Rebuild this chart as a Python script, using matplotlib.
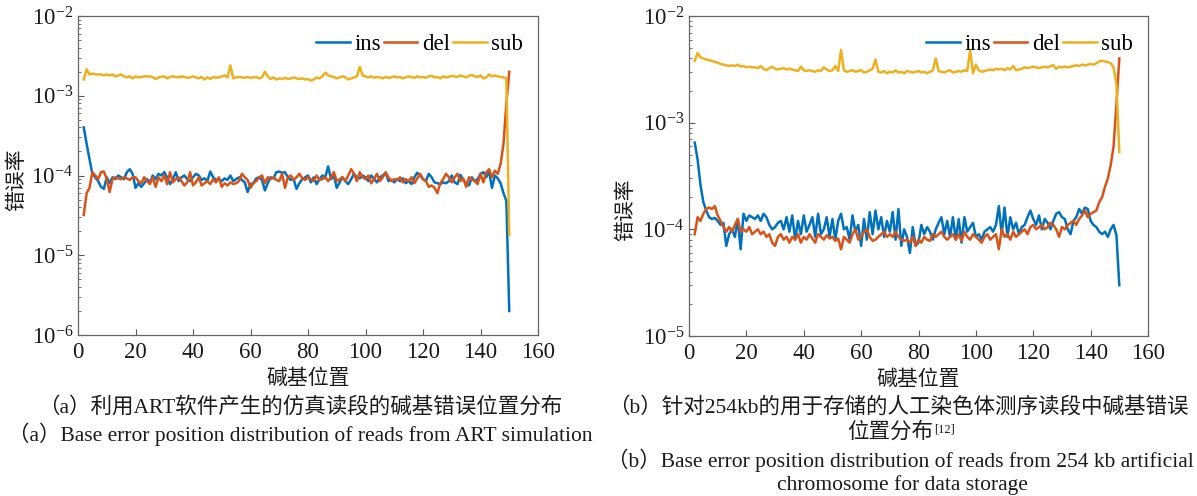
import numpy as np
import matplotlib
matplotlib.use("Agg")
import matplotlib.pyplot as plt
from matplotlib.ticker import LogLocator, NullFormatter

plt.rcParams['font.family'] = ['Liberation Serif', 'Noto Sans CJK SC', 'DejaVu Sans']
plt.rcParams['mathtext.fontset'] = 'stix'

# ---------------- data ----------------
positions = list(range(2, 151))  # base position 2..150

# Panel (a): ART simulation
a_sub_e3 = [1.6, 2.15, 1.85, 1.9, 1.85, 1.85, 1.85, 1.8, 1.85,
            1.8, 1.85, 1.75, 1.8, 1.85, 1.75, 1.7, 1.75, 1.65, 1.75,
            1.7, 1.72, 1.75, 1.75, 1.75, 1.7, 1.62, 1.7, 1.72, 1.75,
            1.65, 1.72, 1.75, 1.72, 1.7, 1.75, 1.72, 1.68, 1.7, 1.75,
            1.7, 1.65, 1.72, 1.6, 1.7, 1.62, 1.72, 1.68, 1.7, 1.75,
            1.8, 1.7, 2.4, 1.65, 1.7, 1.72, 1.7, 1.68, 1.72, 1.68,
            1.7, 1.72, 1.65, 1.7, 2.0, 1.75, 1.62, 1.7, 1.6, 1.65,
            1.62, 1.68, 1.62, 1.65, 1.7, 1.65, 1.62, 1.65, 1.6, 1.62,
            1.55, 1.6, 1.7, 1.65, 1.75, 1.95, 1.8, 1.75, 1.72, 1.65,
            1.7, 1.75, 1.7, 1.6, 1.65, 1.7, 1.75, 2.3, 1.8, 1.75,
            1.7, 1.75, 1.68, 1.72, 1.7, 1.65, 1.72, 1.68, 1.7, 1.75,
            1.7, 1.72, 1.65, 1.7, 1.75, 1.72, 1.68, 1.75, 1.7, 1.72,
            1.68, 1.75, 1.78, 1.7, 1.72, 1.65, 1.75, 1.7, 1.72, 1.78,
            1.75, 1.72, 1.8, 1.75, 1.7, 1.78, 1.82, 1.75, 1.72, 1.8,
            1.65, 1.7, 1.85, 1.75, 1.8, 1.75, 1.72, 1.7, 1.65, 0.018]

a_ins_e4 = [4.0, 2.5, 1.6, 1.05, 0.95, 0.85, 0.72, 0.68, 0.95,
            0.8, 0.95, 0.9, 1.0, 0.95, 0.9, 1.1, 1.2, 1.05, 0.7,
            0.8, 0.72, 0.8, 0.9, 0.82, 1.0, 0.9, 1.05, 1.0, 1.1,
            0.95, 0.78, 0.9, 1.1, 0.85, 0.95, 1.0, 0.9, 0.85, 0.95,
            1.05, 1.0, 0.88, 0.92, 0.85, 1.12, 0.95, 0.88, 0.9, 0.85,
            0.92, 0.88, 1.0, 0.85, 0.9, 0.95, 0.88, 0.82, 0.62, 0.78,
            0.8, 0.92, 0.95, 0.88, 0.65, 0.8, 0.95, 0.92, 1.1, 1.12,
            1.08, 1.1, 0.95, 0.88, 0.9, 0.68, 0.8, 0.9, 0.95, 1.0,
            0.82, 0.95, 0.78, 0.9, 1.0, 0.95, 1.3, 0.9, 1.0, 0.7,
            0.82, 0.95, 0.85, 0.78, 0.9, 1.05, 0.95, 0.92, 1.0, 0.95,
            0.85, 1.0, 0.9, 0.82, 0.95, 1.0, 1.08, 0.85, 0.88, 0.82,
            0.9, 0.85, 0.92, 0.8, 0.85, 0.78, 0.95, 1.08, 1.0, 0.9,
            0.85, 1.05, 0.95, 0.82, 0.8, 0.78, 0.82, 0.8, 0.85, 1.0,
            0.82, 0.78, 1.02, 0.88, 0.8, 0.75, 0.95, 0.85, 0.9, 1.05,
            1.1, 0.95, 1.12, 0.7, 1.0, 0.92, 0.8, 0.6, 0.48, 0.02]

a_del_e4 = [0.32, 0.6, 0.7, 1.1, 1.0, 0.9, 1.1, 1.12, 0.9,
            0.62, 0.9, 0.95, 0.92, 0.9, 0.95, 0.92, 0.88, 0.95, 0.95,
            0.85, 0.8, 0.95, 0.85, 0.78, 0.95, 0.72, 0.95, 0.85, 1.0,
            0.78, 1.1, 0.82, 0.9, 0.95, 0.85, 0.75, 0.82, 1.1, 0.75,
            0.82, 0.95, 0.75, 0.8, 0.85, 0.78, 0.9, 0.82, 0.95, 0.72,
            0.8, 0.75, 0.82, 0.78, 0.8, 0.85, 1.05, 0.95, 0.88, 0.7,
            0.8, 0.85, 0.95, 1.0, 0.8, 0.95, 0.9, 0.95, 0.88, 0.85,
            1.05, 0.7, 0.95, 1.0, 0.88, 0.95, 1.05, 0.92, 0.88, 0.95,
            0.9, 0.85, 1.0, 0.88, 0.9, 0.95, 0.85, 0.95, 1.1, 0.85,
            0.9, 0.95, 0.85, 1.0, 1.2, 1.05, 0.85, 1.1, 0.95, 0.9,
            1.0, 0.8, 0.9, 1.05, 0.85, 0.95, 1.1, 0.95, 0.85, 0.9,
            0.88, 0.95, 0.82, 0.9, 0.85, 0.95, 0.8, 0.92, 1.05, 0.9,
            0.85, 0.72, 0.75, 0.7, 0.6, 0.8, 0.9, 1.05, 0.95, 0.82,
            0.95, 1.05, 0.85, 0.92, 0.72, 0.95, 0.9, 0.85, 0.78, 1.05,
            0.82, 1.1, 1.2, 0.95, 1.15, 1.05, 1.4, 2.5, 8.0, 20.0]

# Panel (b): 254 kb artificial chromosome
b_sub_e3 = [3.8, 4.5, 4.1, 4.0, 3.9, 3.85, 3.8, 3.7, 3.65,
            3.55, 3.5, 3.45, 3.4, 3.45, 3.4, 3.5, 3.35, 3.4, 3.3,
            3.35, 3.3, 3.3, 3.25, 3.4, 3.2, 3.1, 3.25, 3.35, 3.2,
            3.15, 3.2, 3.25, 3.15, 3.2, 3.15, 3.1, 3.05, 3.35, 3.1,
            3.05, 3.1, 3.05, 3.0, 3.1, 3.05, 3.3, 3.15, 3.05, 3.1,
            3.4, 3.05, 4.8, 3.1, 3.0, 3.05, 3.1, 3.0, 3.05, 3.1,
            2.95, 3.0, 3.1, 3.2, 3.9, 3.0, 2.95, 3.05, 2.9, 3.0,
            2.95, 3.1, 2.95, 3.0, 2.9, 3.05, 3.0, 2.95, 3.0, 3.05,
            2.95, 3.0, 2.9, 3.0, 3.1, 4.0, 3.05, 3.0, 2.95, 3.05,
            3.1, 2.95, 3.0, 3.05, 3.0, 3.1, 3.05, 4.8, 2.9, 3.5,
            3.1, 3.0, 3.05, 3.1, 3.15, 3.1, 3.2, 3.15, 3.2, 3.1,
            3.25, 3.15, 3.4, 3.1, 3.15, 3.2, 3.3, 3.25, 3.3, 3.35,
            3.3, 3.25, 3.3, 3.35, 3.3, 3.4, 3.45, 3.2, 3.35, 3.3,
            3.35, 3.3, 3.35, 3.4, 3.45, 3.4, 3.5, 3.45, 3.5, 3.55,
            3.5, 3.6, 3.75, 3.8, 3.75, 3.7, 3.6, 3.3, 2.3, 0.53]

b_ins_e4 = [6.5, 4.5, 2.6, 1.8, 1.5, 1.3, 1.25, 1.28, 1.2,
            1.1, 1.15, 0.7, 0.9, 1.0, 0.85, 1.25, 0.65, 1.4, 1.2,
            1.35, 1.3, 1.25, 1.35, 1.2, 1.4, 1.3, 1.1, 1.0, 1.05,
            1.15, 1.2, 1.0, 1.3, 0.95, 1.35, 0.8, 1.2, 0.9, 1.35,
            0.95, 1.1, 1.3, 0.85, 1.4, 0.9, 1.0, 1.3, 0.85, 1.25,
            0.8, 1.2, 1.4, 1.0, 1.05, 0.8, 1.35, 0.95, 1.1, 0.7,
            1.25, 0.8, 1.45, 0.9, 1.5, 1.0, 1.3, 0.85, 1.2, 0.95,
            1.45, 0.8, 1.55, 0.7, 1.0, 0.85, 0.6, 1.05, 0.7, 0.75,
            1.1, 0.9, 1.05, 0.95, 0.8, 1.0, 1.15, 1.3, 0.9, 1.2,
            0.85, 1.3, 0.8, 1.25, 0.75, 1.3, 0.95, 1.05, 1.15, 0.85,
            0.9, 0.8, 0.95, 1.0, 1.05, 0.95, 1.1, 1.65, 0.9, 1.6,
            0.85, 1.3, 1.0, 1.15, 0.9, 1.05, 1.1, 1.3, 1.5, 1.25,
            1.1, 1.35, 1.0, 1.25, 1.15, 1.0, 1.2, 1.4, 1.45, 1.3,
            1.25, 1.0, 0.9, 1.2, 1.3, 1.55, 1.4, 1.6, 1.55, 1.2,
            1.1, 1.05, 0.95, 0.9, 0.95, 0.85, 1.0, 1.1, 0.88, 0.3]

b_del_e4 = [0.9, 1.3, 1.2, 1.4, 1.55, 1.6, 1.55, 1.65, 1.35,
            1.2, 1.05, 0.95, 1.05, 0.95, 1.1, 1.25, 0.95, 1.0, 0.95,
            1.05, 0.9, 0.95, 1.0, 0.9, 0.95, 0.85, 0.9, 0.75, 0.7,
            0.85, 0.9, 0.8, 0.85, 0.75, 0.85, 0.8, 0.9, 0.75, 0.85,
            0.8, 0.9, 0.82, 0.75, 0.9, 0.85, 0.8, 0.88, 0.82, 0.85,
            0.78, 0.82, 0.65, 0.85, 0.8, 0.75, 0.9, 1.0, 0.8, 0.85,
            0.95, 1.0, 0.85, 0.78, 0.8, 0.85, 0.9, 0.95, 0.85, 0.9,
            0.85, 0.95, 0.85, 0.8, 0.78, 0.8, 0.75, 0.85, 0.7, 0.8,
            0.75, 0.85, 0.8, 0.78, 0.9, 0.85, 0.9, 0.95, 0.85, 0.8,
            0.85, 0.9, 0.8, 0.9, 0.78, 0.95, 0.85, 0.8, 0.9, 0.85,
            0.8, 0.75, 0.85, 0.9, 0.8, 0.85, 0.9, 0.65, 1.0, 0.85,
            0.9, 0.8, 0.95, 0.85, 0.9, 0.95, 1.0, 0.9, 1.05, 1.1,
            1.0, 1.05, 1.1, 1.0, 1.05, 1.15, 1.1, 1.0, 0.85, 1.05,
            1.0, 1.1, 1.15, 1.2, 1.1, 1.25, 1.35, 1.5, 1.3, 1.4,
            1.45, 1.5, 1.8, 2.0, 2.5, 3.0, 4.0, 6.0, 15.0, 40.0]

series_names = ['ins', 'del', 'sub']
colors = ['#0072BD', '#D95319', '#EDB120']
x_ticks = [0, 20, 40, 60, 80, 100, 120, 140, 160]

# ---------------- figure ----------------
W, H = 1197, 496
fig = plt.figure(figsize=(W / 100, H / 100), dpi=100)

def px_axes(x0, x1, y0, y1):
    return fig.add_axes([x0 / W, 1 - y1 / H, (x1 - x0) / W, (y1 - y0) / H])

axA = px_axes(78, 538, 16, 335)
axB = px_axes(689, 1148, 16, 336)

panels = [
    (axA, [a_ins_e4, a_del_e4, a_sub_e3], (1e-6, 1e-2), 180, 27),
    (axB, [b_ins_e4, b_del_e4, b_sub_e3], (1e-5, 1e-2), 210, 636),
]
units = [1e-4, 1e-4, 1e-3]
cjk = ['Noto Sans CJK SC', 'DejaVu Sans']
tc = '#1a1a1a'

for ax, data, ylim, ylab_y, ylab_x in panels:
    for vals, unit, name, c in zip(data, units, series_names, colors):
        ax.plot(positions, np.array(vals) * unit, color=c, lw=1.8, label=name)
    ax.set_yscale('log')
    ax.set_ylim(*ylim)
    ax.set_xlim(0, 160)
    ax.set_xticks(x_ticks)
    ax.yaxis.set_major_locator(LogLocator(base=10, numticks=10))
    ax.yaxis.set_minor_locator(LogLocator(base=10, subs=np.arange(2, 10), numticks=10))
    ax.yaxis.set_minor_formatter(NullFormatter())
    ax.tick_params(axis='both', which='both', direction='in', top=False, right=False,
                   colors='0.35', labelcolor=tc, labelsize=16.5)
    ax.tick_params(axis='x', pad=5)
    ax.tick_params(which='major', length=4, width=0.8)
    ax.tick_params(which='minor', length=2.5, width=0.6)
    for s in ax.spines.values():
        s.set_color('0.4')
        s.set_linewidth(0.9)
    ax.set_xlabel('碱基位置', fontsize=15, family=cjk, color=tc, labelpad=3)
    ax.set_ylabel('错误率', fontsize=15, family=cjk, color=tc)
    bb = ax.get_position()
    ax.yaxis.set_label_coords((ylab_x / W - bb.x0) / bb.width,
                              ((H - ylab_y) / H - bb.y0) / bb.height)
    ax.legend(loc='upper right', ncol=3, frameon=False, fontsize=16.5,
              handlelength=1.45, handletextpad=0.2, columnspacing=0.15,
              borderaxespad=0.25, bbox_to_anchor=(1.0, 0.99))

cap_fam = ['Liberation Serif', 'Noto Sans CJK SC']
fs = 15.5
fig.text(300 / W, 1 - 407 / H, '（a）利用ART软件产生的仿真读段的碱基错误位置分布',
         ha='center', va='center', fontsize=fs, family=cap_fam, color=tc)
fig.text(300 / W, 1 - 434 / H, '（a）Base error position distribution of reads from ART simulation',
         ha='center', va='center', fontsize=fs, family=cap_fam, color=tc)
fig.text(898 / W, 1 - 407 / H, '（b）针对254kb的用于存储的人工染色体测序读段中碱基错误',
         ha='center', va='center', fontsize=fs, family=cap_fam, color=tc)
t4 = fig.text(890 / W, 1 - 432 / H, '位置分布',
              ha='center', va='center', fontsize=fs, family=cap_fam, color=tc)
axB.annotate('[12]', xy=(1, 1), xycoords=t4, xytext=(1, -1), textcoords='offset points',
             ha='left', va='top', fontsize=9, family=cap_fam, color=tc,
             annotation_clip=False)
fig.text(900 / W, 1 - 460 / H, '（b）Base error position distribution of reads from 254 kb artificial',
         ha='center', va='center', fontsize=fs, family=cap_fam, color=tc)
fig.text(902 / W, 1 - 485 / H, 'chromosome for data storage',
         ha='center', va='center', fontsize=fs, family=cap_fam, color=tc)

fig.savefig('out.png', dpi=100)
